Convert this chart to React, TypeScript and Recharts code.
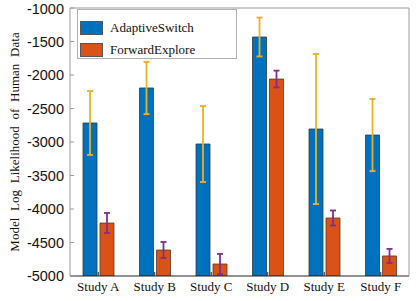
import {
	BarChart,
	Bar,
	XAxis,
	YAxis,
	ErrorBar,
	Legend
} from 'recharts'

const studies = ['Study A', 'Study B', 'Study C', 'Study D', 'Study E', 'Study F']
const adaptiveSwitch = [-2716, -2194, -3030, -1433, -2806, -2896]
const adaptiveErr = [477, 390, 567, 290, 1120, 538]
const forwardExplore = [-4209, -4612, -4821, -2060, -4134, -4701]
const forwardErr = [150, 120, 150, 125, 112, 105]
const yTicks = [-5000, -4500, -4000, -3500, -3000, -2500, -2000, -1500, -1000]

const Y_MIN = yTicks[0]
const Y_MAX = yTicks[yTicks.length - 1]

const BLUE = '#0072BD'
const ORANGE = '#D95319'
const YELLOW = '#EDB120'
const PURPLE = '#7E2F8E'
const BOX = '#9a9a9a'

const data = studies.map((study, i) => ({
	study,
	adaptive: adaptiveSwitch[i],
	adaptiveErr: adaptiveErr[i],
	forward: forwardExplore[i],
	forwardErr: forwardErr[i]
}))

const serif = '"Liberation Serif", "Times New Roman", serif'
const sans = '"Liberation Sans", Arial, sans-serif'

function LegendBox() {
	const items = [
		{ label: 'AdaptiveSwitch', color: BLUE },
		{ label: 'ForwardExplore', color: ORANGE }
	]
	return (
		<div
			style={{
				border: '1px solid #b0b0b0',
				background: '#fff',
				width: 160,
				height: 50,
				boxSizing: 'border-box',
				padding: '7px 0 0 2px'
			}}
		>
			{items.map((it) => (
				<div
					key={it.label}
					style={{ display: 'flex', alignItems: 'center', height: 22 }}
				>
					<span
						style={{
							display: 'inline-block',
							width: 23,
							height: 14,
							background: it.color,
							border: '1px solid #555',
							boxSizing: 'border-box',
							marginRight: 7
						}}
					/>
					<span style={{ fontFamily: serif, fontSize: 13, color: '#111' }}>
						{it.label}
					</span>
				</div>
			))}
		</div>
	)
}

function YLabel(props: any) {
	const vb = props.viewBox || { x: 0, y: 0, width: 0, height: 0 }
	const cx = vb.x + 14
	const cy = vb.y + vb.height / 2
	return (
		<text
			x={cx}
			y={cy}
			transform={`rotate(-90 ${cx} ${cy})`}
			textAnchor='middle'
			dominantBaseline='central'
			style={{ fontFamily: serif, fontSize: 13, wordSpacing: 3.5, fill: '#111' }}
		>
			Model Log Likelihood of Human Data
		</text>
	)
}

export default function App() {
	return (
		<div style={{ position: 'absolute', top: 0, left: 0, background: '#fff' }}>
			<BarChart
				width={416}
				height={301}
				data={data}
				margin={{ top: 8, right: 7, left: 0, bottom: 0 }}
				barGap={3}
				barCategoryGap={12}
			>
				<XAxis
					dataKey='study'
					xAxisId='bottom'
					height={25}
					stroke='#262626'
					tickSize={-4}
					tickMargin={10}
					tick={{ fontFamily: serif, fontSize: 13, fill: '#111' }}
				/>
				<XAxis
					dataKey='study'
					xAxisId='top'
					orientation='top'
					mirror
					tick={false}
					tickSize={4}
					stroke={BOX}
				/>
				<YAxis
					yAxisId='left'
					type='number'
					domain={[Y_MIN, Y_MAX]}
					ticks={yTicks}
					width={70}
					stroke={BOX}
					tickSize={-4}
					tickMargin={10}
					tick={{ fontFamily: sans, fontSize: 14.5, fill: '#111' }}
					allowDataOverflow
					label={<YLabel />}
				/>
				<YAxis
					yAxisId='right'
					orientation='right'
					type='number'
					domain={[Y_MIN, Y_MAX]}
					ticks={yTicks}
					mirror
					tick={false}
					tickSize={4}
					stroke={BOX}
					allowDataOverflow
				/>
				<Legend
					layout='vertical'
					verticalAlign='middle'
					align='center'
					content={<LegendBox />}
					wrapperStyle={{ top: 9, left: 77, width: 160 }}
				/>
				<Bar
					name='AdaptiveSwitch'
					xAxisId='bottom'
					yAxisId='left'
					dataKey={(d: any) => [Y_MIN, d.adaptive]}
					fill={BLUE}
					stroke='#2b3a4a'
					strokeWidth={0.8}
					barSize={14}
					isAnimationActive={false}
				>
					<ErrorBar dataKey='adaptiveErr' width={3} strokeWidth={1.8} stroke={YELLOW} />
				</Bar>
				<Bar
					name='ForwardExplore'
					xAxisId='bottom'
					yAxisId='left'
					dataKey={(d: any) => [Y_MIN, d.forward]}
					fill={ORANGE}
					stroke='#5a3a2a'
					strokeWidth={0.8}
					barSize={14}
					isAnimationActive={false}
				>
					<ErrorBar dataKey='forwardErr' width={3} strokeWidth={1.8} stroke={PURPLE} />
				</Bar>
			</BarChart>
		</div>
	)
}
